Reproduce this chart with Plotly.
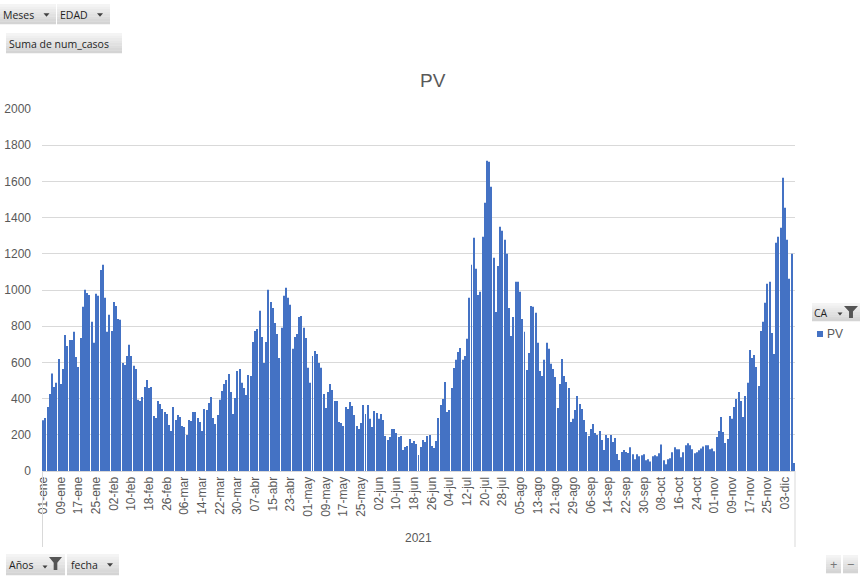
import plotly.graph_objects as go
import pandas as pd

# ---- data (daily cases, 2021) ----
casos_01ene_04feb = [280, 293, 354, 426, 538, 464, 488, 619, 481, 564, 752, 691, 724, 724, 769, 630, 575, 735,
                     907, 1001, 984, 973, 824, 708, 979, 968, 1111, 1139, 957, 769, 863, 774, 934, 912, 840]
casos_05feb_14mar = [835, 597, 586, 636, 697, 636, 581, 564, 393, 387, 409, 464, 503, 459, 464, 304, 293, 387,
                     370, 343, 326, 315, 254, 221, 354, 282, 310, 299, 249, 243, 199, 282, 276, 326, 326, 293,
                     271, 221]
casos_15mar_22abr = [343, 337, 376, 409, 293, 260, 310, 393, 442, 481, 503, 536, 437, 315, 404, 553, 564, 487,
                     459, 420, 531, 525, 713, 774, 785, 885, 741, 597, 713, 1001, 934, 901, 818, 757, 625, 791,
                     968, 1012, 957]
casos_23abr_30may = [918, 675, 741, 757, 851, 857, 791, 735, 570, 487, 636, 663, 647, 597, 570, 426, 348, 437,
                     481, 448, 387, 387, 271, 265, 249, 354, 343, 381, 359, 310, 249, 232, 265, 365, 315, 365,
                     288, 243]
casos_31may_08jul = [332, 321, 288, 315, 282, 194, 171, 188, 232, 232, 210, 188, 194, 116, 133, 138, 177, 155,
                     166, 149, 88, 133, 171, 160, 194, 199, 138, 127, 166, 293, 365, 398, 492, 326, 337, 459,
                     569, 614, 658]
casos_09jul_15ago = [680, 614, 636, 730, 957, 1139, 1288, 1117, 973, 990, 1294, 1482, 1714, 1708, 1570, 1178,
                     879, 1133, 1349, 1327, 1277, 1200, 901, 746, 851, 1045, 1045, 990, 840, 769, 558, 652,
                     912, 907, 874, 708, 553, 525]
casos_16ago_23sep = [614, 708, 675, 592, 564, 520, 348, 481, 619, 525, 492, 459, 271, 288, 337, 415, 370, 343,
                     282, 216, 194, 232, 260, 210, 199, 221, 171, 116, 199, 182, 199, 160, 182, 94, 61, 105,
                     116, 105, 100]
casos_24sep_01nov = [131, 92, 65, 92, 81, 87, 92, 59, 65, 53, 81, 87, 81, 98, 147, 59, 37, 65, 70, 103, 131,
                     120, 120, 76, 103, 142, 153, 142, 120, 98, 103, 114, 125, 136, 142, 142, 120, 125, 109]
casos_02nov_07dic = [188, 221, 299, 216, 155, 177, 304, 288, 354, 398, 437, 387, 299, 415, 487, 669, 625, 641,
                     575, 470, 774, 824, 929, 1034, 1045, 763, 647, 1261, 1294, 1344, 1620, 1454, 1277, 1062,
                     1200, 44]

casos = (casos_01ene_04feb + casos_05feb_14mar + casos_15mar_22abr + casos_23abr_30may +
         casos_31may_08jul + casos_09jul_15ago + casos_16ago_23sep + casos_24sep_01nov + casos_02nov_07dic)

meses_abrev = ["ene", "feb", "mar", "abr", "may", "jun", "jul", "ago", "sep", "oct", "nov", "dic"]
fechas = pd.date_range("2021-01-01", periods=len(casos), freq="D")
categorias = [f"{d.day:02d}-{meses_abrev[d.month - 1]}" for d in fechas]
etiquetas = categorias[::8]

W, H = 866, 579
L, R, T, B = 42, 795, 109, 471  # plot area in pixels


def PX(x):
    return (x - L) / (R - L)


def PY(y):
    return (B - y) / (B - T)


GRAY = "#595959"
FONT = "Liberation Sans"
BTN_FONT = "Open Sans"

fig = go.Figure()
fig.add_trace(go.Bar(x=categorias, y=casos, marker=dict(color="#4472C4", line=dict(width=0)),
                     name="PV", showlegend=False))

shapes = []
annotations = []


def button(x0, y0, x1, y1):
    n = 8
    h = (y1 - y0) / n
    for i in range(n):
        t = i / (n - 1)
        c = int(244 - t * (244 - 212))
        shapes.append(dict(type="rect", xref="paper", yref="paper",
                           x0=PX(x0), x1=PX(x1), y0=PY(y0 + i * h), y1=PY(y0 + (i + 1) * h + 0.3),
                           fillcolor=f"rgb({c},{c},{c})", line=dict(width=0), layer="above"))


def text(x, y, s, size=10.5, color="#1f1f1f", family=BTN_FONT, anchor="left"):
    annotations.append(dict(xref="paper", yref="paper", x=PX(x), y=PY(y), text=s, showarrow=False,
                            xanchor=anchor, yanchor="middle", borderpad=0,
                            font=dict(family=family, size=size, color=color)))


def tri(cx, cy, w=6, h=3.5, color="#404040"):
    path = (f"M {PX(cx - w / 2)} {PY(cy - h / 2)} L {PX(cx + w / 2)} {PY(cy - h / 2)} "
            f"L {PX(cx)} {PY(cy + h / 2)} Z")
    shapes.append(dict(type="path", xref="paper", yref="paper", path=path,
                       fillcolor=color, line=dict(width=0), layer="above"))


def funnel(x0, y0, x1, y1, color="#555555"):
    mx = (x0 + x1) / 2
    sw = (x1 - x0) * 0.14
    ym = y0 + (y1 - y0) * 0.45
    pts = [(x0, y0), (x1, y0), (mx + sw, ym), (mx + sw, y1), (mx - sw, y1), (mx - sw, ym)]
    path = "M " + " L ".join(f"{PX(a)} {PY(b)}" for a, b in pts) + " Z"
    shapes.append(dict(type="path", xref="paper", yref="paper", path=path,
                       fillcolor=color, line=dict(width=0), layer="above"))


# top-left field buttons
button(0, 4, 56, 24)
text(2, 14.5, "Meses")
tri(46.5, 15)
button(57, 4, 110, 24)
text(59, 14.5, "EDAD")
tri(100, 15)
button(6, 33, 122, 53)
text(8, 43.5, "Suma de num_casos")

# bottom-left field buttons
button(6, 554, 65, 575)
text(8, 564.5, "Años")
tri(45, 567, w=5, h=3)
funnel(49, 557, 62, 570)
button(67, 554, 119, 575)
text(70, 564.5, "fecha")
tri(110, 565)

# legend area
button(812, 303, 860, 321)
text(813, 312.5, "CA")
tri(840, 314, w=5, h=3)
funnel(844, 306, 858, 318)
shapes.append(dict(type="rect", xref="paper", yref="paper", x0=PX(817), x1=PX(823), y0=PY(331), y1=PY(337),
                   fillcolor="#4472C4", line=dict(width=0)))
text(826, 334, "PV", size=12, color=GRAY, family=FONT)

# bottom-right +/- buttons
button(826, 555, 841, 573)
text(833.5, 564, "+", size=13, color="#777777", anchor="center")
button(843, 555, 858, 573)
text(850.5, 564, "−", size=13, color="#777777", anchor="center")

# multi-level category dividers and year label
for xx in (L + 0.5, R):
    shapes.append(dict(type="line", xref="paper", yref="paper", x0=PX(xx), x1=PX(xx), y0=PY(B), y1=PY(547),
                       line=dict(color="#d9d9d9", width=1)))
text((L + R) / 2, 538, "2021", size=12, color=GRAY, family=FONT, anchor="center")

# title
text(433, 80, "PV", size=19, color=GRAY, family=FONT, anchor="center")

fig.update_layout(
    width=W, height=H, autosize=False,
    margin=dict(l=L, r=W - R, t=T, b=H - B, pad=0),
    paper_bgcolor="white", plot_bgcolor="white",
    bargap=0.55,
    font=dict(family=FONT, size=12, color=GRAY),
    shapes=shapes, annotations=annotations,
    xaxis=dict(type="category", tickmode="array", tickvals=etiquetas, ticktext=etiquetas, tickangle=-90,
               showgrid=False, showline=True, linecolor="#d9d9d9", linewidth=1, ticks="", automargin=False,
               tickfont=dict(family=FONT, size=12, color=GRAY), range=[-0.5, len(casos) - 0.5]),
    yaxis=dict(range=[0, 2000], dtick=200, showgrid=True, gridcolor="#d9d9d9", gridwidth=1,
               zeroline=False, showline=False, ticks="", ticklabelstandoff=10, automargin=False,
               tickfont=dict(family=FONT, size=12, color=GRAY)),
)

fig.write_html("out.html")
